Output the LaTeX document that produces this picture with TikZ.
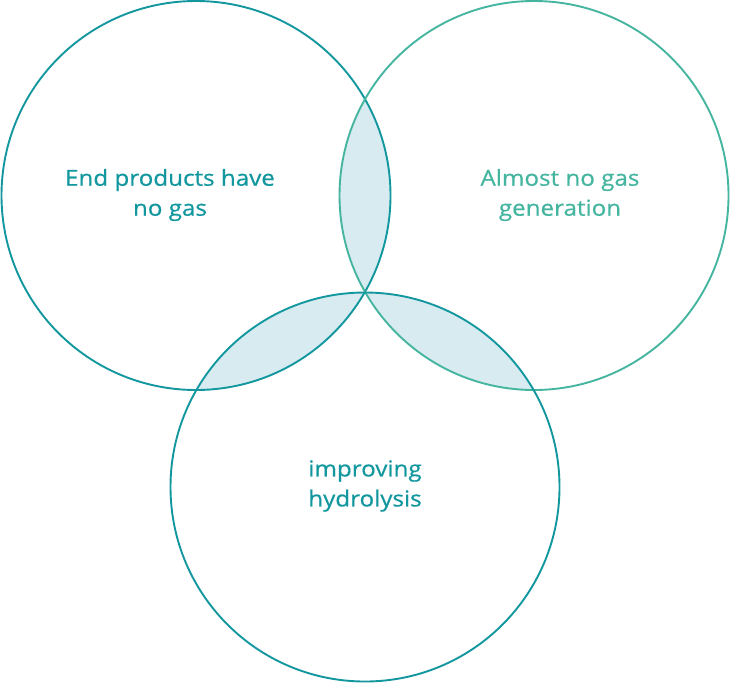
\documentclass[tikz,border=0pt]{standalone}
\usepackage{fontspec}
\setmainfont{Open Sans}[FakeStretch=1.1, FakeBold=0.6]
\definecolor{tealA}{HTML}{13979F}
\definecolor{tealB}{HTML}{45B5A0}
\definecolor{lens}{HTML}{D7EBF1}
\begin{document}
\begin{tikzpicture}[x=1pt,y=-1pt,
  ring/.style={line width=1.9pt},
  lbl/.style={font=\fontsize{22}{30}\selectfont, align=center, inner sep=0pt}]
\useasboundingbox (0,0) rectangle (730,683);
\coordinate (cl) at (196,195.5);
\coordinate (cr) at (534,195.5);
\coordinate (cb) at (365,487);
\def\R{194.5}
% lens fills
\begin{scope}
  \clip (cl) circle (\R);
  \fill[lens] (cr) circle (\R);
\end{scope}
\begin{scope}
  \clip (cl) circle (\R);
  \fill[lens] (cb) circle (\R);
\end{scope}
\begin{scope}
  \clip (cr) circle (\R);
  \fill[lens] (cb) circle (\R);
\end{scope}
% circles
\draw[ring, tealA] (cl) circle (\R);
\draw[ring, tealB] (cr) circle (\R);
\draw[ring, tealA] (cb) circle (\R);
% labels
\node[lbl, text=tealA] (tl) at (170,195) {End products have\\no gas};
\node[lbl, text=tealB] (tr) at (560,195) {Almost no gas\\generation};
\node[lbl, text=tealA] (tb) at (365,486) {improving\\hydrolysis};
\end{tikzpicture}
\end{document}
